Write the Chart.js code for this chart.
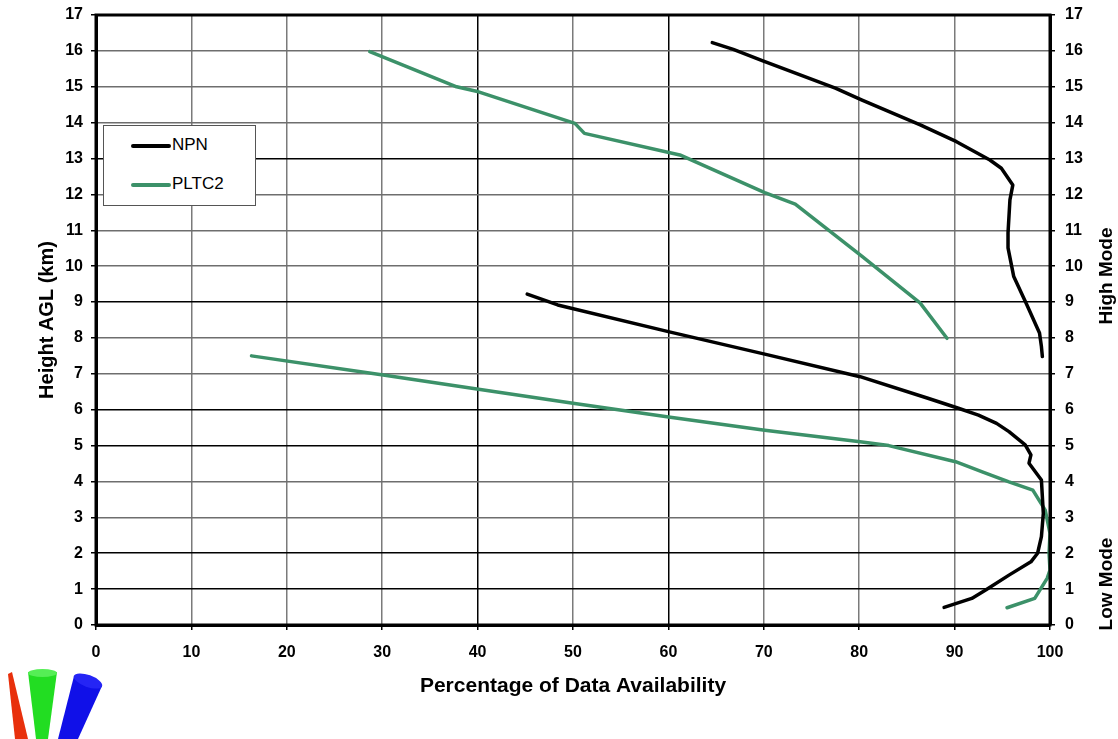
<!DOCTYPE html>
<html>
<head>
<meta charset="utf-8">
<script src="https://cdn.jsdelivr.net/npm/chart.js@4"></script>
<style>
  html, body { margin: 0; padding: 0; background: #fff; }
  #wrap { position: relative; width: 1118px; height: 739px; overflow: hidden; }
  #chart { position: absolute; left: 0; top: 0; }
  .side { position: absolute; font: bold 19px "Liberation Sans", Arial, sans-serif; color: #000;
          transform: translate(-50%, -50%) rotate(-90deg); white-space: nowrap; }
  #legend { position: absolute; left: 103px; top: 125px; width: 151px; height: 79px;
            border: 1px solid #555; background: #fff;
            font: 17px "Liberation Sans", Arial, sans-serif; color: #000; }
  .item { position: absolute; left: 27px; height: 20px; line-height: 20px; }
  .item span.sw { display: inline-block; width: 40px; height: 4px; vertical-align: middle; margin-right: 1px; border-radius: 2px; }
  #logo { position: absolute; left: 0; top: 660px; }
</style>
</head>
<body>
<div id="wrap">
  <canvas id="chart" width="1118" height="739"></canvas>
  <div id="legend">
    <div class="item" style="top:9px"><span class="sw" style="background:#000"></span>NPN</div>
    <div class="item" style="top:48px"><span class="sw" style="background:#3c9169"></span>PLTC2</div>
  </div>
  <div class="side" style="left:1106px; top:276px">High Mode</div>
  <div class="side" style="left:1106px; top:584px">Low Mode</div>
  <svg id="logo" width="130" height="79">
    <polygon points="8,14 12,12 28,79 15,79" fill="#e8300c"/>
    <polygon points="28,12 57,12 48,79 36,79" fill="#22dd22"/>
    <ellipse cx="42.5" cy="13" rx="14.5" ry="4" fill="#55ee55"/>
    <polygon points="74,16 102,26 78,79 58,79" fill="#1010e8"/>
    <ellipse cx="88" cy="21" rx="15" ry="6" transform="rotate(20 88 21)" fill="#2525f5"/>
  </svg>
</div>
<script>
// NPN, high mode
const npnHighX = [64.6, 66.8, 69.9, 77.5, 80.3, 86.4, 90.2, 93.7, 94.9, 96.1, 95.8, 95.6, 95.6, 96.2, 97.5, 98.9, 99.1, 99.2];
const npnHighY = [16.23, 16.04, 15.72, 14.96, 14.63, 13.94, 13.47, 12.96, 12.73, 12.26, 11.85, 10.93, 10.51, 9.71, 8.97, 8.14, 7.76, 7.48];
// NPN, low mode
const npnLowX = [45.2, 48.4, 60.1, 70.1, 80.1, 87.2, 90.4, 92.5, 94.4, 95.7, 97.4, 98.0, 97.8, 99.1, 99.3, 99.1, 98.7, 98.0, 95.7, 93.3, 91.8, 88.9];
const npnLowY = [9.22, 8.92, 8.17, 7.55, 6.92, 6.32, 6.04, 5.85, 5.62, 5.39, 5.02, 4.74, 4.51, 4.04, 3.11, 2.46, 2.0, 1.76, 1.39, 0.98, 0.74, 0.49];
// PLTC2, high mode
const pltcHighX = [28.7, 37.8, 40.1, 50.2, 51.2, 61.2, 70.1, 73.3, 80.3, 86.4, 89.2];
const pltcHighY = [15.98, 15.0, 14.86, 13.98, 13.7, 13.1, 12.05, 11.73, 10.27, 8.97, 7.99];
// PLTC2, low mode
const pltcLowX = [16.3, 30.1, 40.1, 50.0, 60.2, 70.1, 80.1, 83.1, 90.1, 92.9, 95.7, 98.2, 99.5, 100, 99.9, 100, 99.7, 98.4, 95.5];
const pltcLowY = [7.5, 6.97, 6.57, 6.18, 5.79, 5.43, 5.11, 5.0, 4.55, 4.27, 3.99, 3.76, 3.2, 2.55, 2.0, 1.53, 1.3, 0.74, 0.48];

const xTicks = [0, 10, 20, 30, 40, 50, 60, 70, 80, 90, 100];
const yTicks = [0, 1, 2, 3, 4, 5, 6, 7, 8, 9, 10, 11, 12, 13, 14, 15, 16, 17];
const darkX = [40, 60];
const darkY = [1, 2, 5, 6, 9, 13];

const NPN_COLOR = "#000000";
const PLTC_COLOR = "#3c9169";

function pts(xs, ys)
{
    return xs.map((x, i) => ({ x: x, y: ys[i] }));
}

function lineSet(label, xs, ys, color, width)
{
    return {
        label,
        data: pts(xs, ys),
        borderColor: color,
        borderWidth: width,
        showLine: true,
        pointRadius: 0,
        tension: 0,
        borderCapStyle: "round",
        borderJoinStyle: "round"
    };
}

// vertical axes: fixed width, no extra margin above/below for the labels
function fitSide(width)
{
    return (s) => {
        s.width = width;
        s.paddingTop = 0;
        s.paddingBottom = 0;
    };
}

const frame = {
    id: "frame",
    afterDatasetsDraw(chart)
    {
        const a = chart.chartArea;
        const ctx = chart.ctx;
        ctx.save();
        ctx.strokeStyle = "#000";
        ctx.lineWidth = 3;
        ctx.strokeRect(a.left, a.top, a.right - a.left, a.bottom - a.top);
        ctx.restore();
    }
};

const tickFont = { family: "'Liberation Sans', Arial, sans-serif", size: 16, weight: "bold" };
const titleFont = { family: "'Liberation Sans', Arial, sans-serif", size: 20, weight: "bold" };

new Chart(document.getElementById("chart"), {
    type: "scatter",
    data: {
        datasets: [
            lineSet("NPN", npnHighX, npnHighY, NPN_COLOR, 3.5),
            lineSet("NPN low", npnLowX, npnLowY, NPN_COLOR, 3.5),
            lineSet("PLTC2", pltcHighX, pltcHighY, PLTC_COLOR, 3.5),
            lineSet("PLTC2 low", pltcLowX, pltcLowY, PLTC_COLOR, 3.5)
        ]
    },
    options: {
        responsive: false,
        animation: false,
        layout: { padding: { top: 15, left: 0, right: 0, bottom: 0 } },
        plugins: {
            legend: { display: false },
            tooltip: { enabled: false }
        },
        scales: {
            x: {
                type: "linear",
                position: "bottom",
                min: 0,
                max: 100,
                afterBuildTicks: (s) => { s.ticks = xTicks.map(v => ({ value: v })); },
                afterFit: (s) => { s.height = 114; },
                ticks: { font: tickFont, color: "#000", padding: 13, maxRotation: 0 },
                grid: {
                    color: (c) => darkX.includes(c.tick.value) ? "#000" : "#7a7a7a",
                    lineWidth: 1.5,
                    tickLength: 5,
                    tickColor: "#000"
                },
                border: { color: "#000", width: 3 },
                title: {
                    display: true,
                    text: "Percentage of Data Availability",
                    font: { family: "'Liberation Sans', Arial, sans-serif", size: 21, weight: "bold" },
                    color: "#000",
                    padding: { top: 0, bottom: 40 }
                }
            },
            y: {
                type: "linear",
                position: "left",
                min: 0,
                max: 17,
                afterBuildTicks: (s) => { s.ticks = yTicks.map(v => ({ value: v })); },
                afterFit: fitSide(96),
                ticks: { font: tickFont, color: "#000", padding: 8 },
                grid: {
                    color: (c) => darkY.includes(c.tick.value) ? "#000" : "#6e6e6e",
                    lineWidth: 1.5,
                    tickLength: 5,
                    tickColor: "#000"
                },
                border: { color: "#000", width: 3 },
                title: {
                    display: true,
                    text: "Height AGL (km)",
                    font: titleFont,
                    color: "#000",
                    padding: { top: 35, bottom: 0 }
                }
            },
            y2: {
                type: "linear",
                position: "right",
                min: 0,
                max: 17,
                afterBuildTicks: (s) => { s.ticks = yTicks.map(v => ({ value: v })); },
                afterFit: fitSide(68),
                ticks: { font: tickFont, color: "#000", padding: 10 },
                grid: {
                    drawOnChartArea: false,
                    tickLength: 5,
                    tickColor: "#000",
                    lineWidth: 1.5
                },
                border: { color: "#000", width: 3 }
            }
        }
    },
    plugins: [frame]
});
</script>
</body>
</html>
